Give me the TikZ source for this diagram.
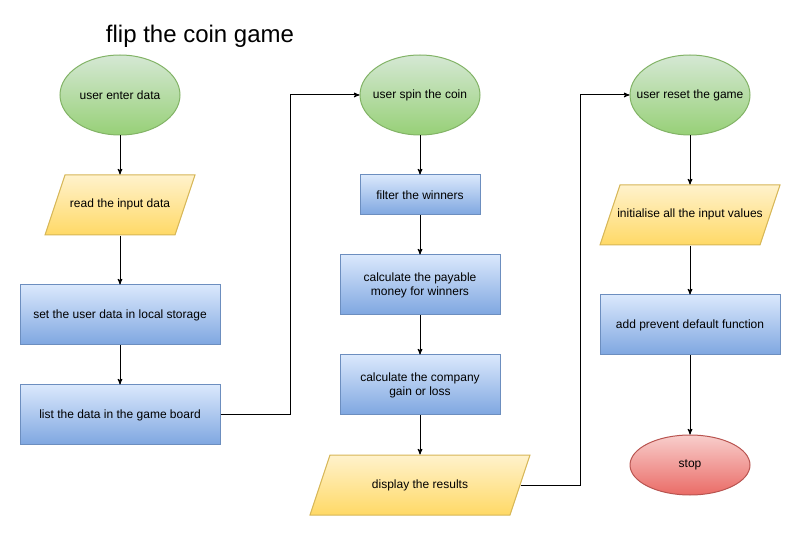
\documentclass[tikz,border=0pt]{standalone}
\usepackage{fontspec}
\setmainfont{Liberation Sans}
\usepackage{tikz}
\usetikzlibrary{arrows,shapes.geometric}

\definecolor{greentop}{HTML}{D5E8D4}
\definecolor{greenbot}{HTML}{97D077}
\definecolor{greenline}{HTML}{82B366}
\definecolor{yellowtop}{HTML}{FFF2CC}
\definecolor{yellowbot}{HTML}{FFD966}
\definecolor{yellowline}{HTML}{D6B656}
\definecolor{bluetop}{HTML}{DAE8FC}
\definecolor{bluebot}{HTML}{7EA6E0}
\definecolor{blueline}{HTML}{6C8EBF}
\definecolor{redtop}{HTML}{F8CECC}
\definecolor{redbot}{HTML}{EA6B66}
\definecolor{redline}{HTML}{B85450}

% label that takes no width, so the shape keeps its own size
\newcommand{\lbl}[1]{\makebox[0pt]{#1}}

\begin{document}
\begin{tikzpicture}[x=1pt,y=1pt,>=stealth',line width=1pt,
    font=\fontsize{12}{14}\selectfont,
    startnode/.style={ellipse, draw=greenline, top color=greentop, bottom color=greenbot,
      minimum width=120pt, minimum height=80pt, inner sep=0pt},
    stopnode/.style={ellipse, draw=redline, top color=redtop, bottom color=redbot,
      minimum width=120pt, minimum height=60pt, inner sep=0pt},
    datanode/.style={trapezium, trapezium left angle=71.57, trapezium right angle=108.43,
      draw=yellowline, top color=yellowtop, bottom color=yellowbot,
      text height=9pt, text depth=3pt, inner ysep=24pt, inner xsep=#1},
    procnode/.style={rectangle, draw=blueline, top color=bluetop, bottom color=bluebot,
      minimum width=200pt, minimum height=60pt, inner sep=0pt, align=center}]
  \useasboundingbox (0,0) rectangle (801,536);

  \node (title) at (200,500) {\fontsize{24}{28}\selectfont flip the coin game};

  \node[startnode] (enter) at (120,441) {\lbl{user enter data}};
  \node[datanode=55pt] (read) [below of=enter, node distance=110pt] {\lbl{read the input data}};
  \node[procnode] (store) [below of=read, node distance=110pt] {set the user data in local storage};
  \node[procnode] (board) [below of=store, node distance=100pt] {list the data in the game board};

  \node[startnode] (spin) [right of=enter, node distance=300pt] {\lbl{user spin the coin}};
  \node[procnode, minimum width=120pt, minimum height=40pt] (filter) [below of=spin, node distance=100pt] {filter the winners};
  \node[procnode, minimum width=160pt] (payable) [below of=filter, node distance=90pt] {calculate the payable\\money for winners};
  \node[procnode, minimum width=160pt] (company) [below of=payable, node distance=100pt] {calculate the company\\gain or loss};
  \node[datanode=90pt] (results) [below of=company, node distance=100pt] {\lbl{display the results}};

  \node[startnode] (reset) [right of=spin, node distance=270pt] {\lbl{user reset the game}};
  \node[datanode=70pt] (init) [below of=reset, node distance=120pt] {\lbl{initialise all the input values}};
  \node[procnode, minimum width=180pt] (prevent) [below of=init, node distance=110pt] {add prevent default function};
  \node[stopnode] (stop) [below of=prevent, node distance=140pt] {\lbl{stop}};

  \draw[->]
      (enter) edge (read)
      (read) edge (store)
      (store) edge (board)
      (spin) edge (filter)
      (filter) edge (payable)
      (payable) edge (company)
      (company) edge (results)
      (reset) edge (init)
      (init) edge (prevent)
      (prevent) edge (stop);

  \draw[->] (board.east) -- ++(70,0) |- (spin);
  \draw[->] (results.east) -- ++(60,0) |- (reset);
\end{tikzpicture}
\end{document}
